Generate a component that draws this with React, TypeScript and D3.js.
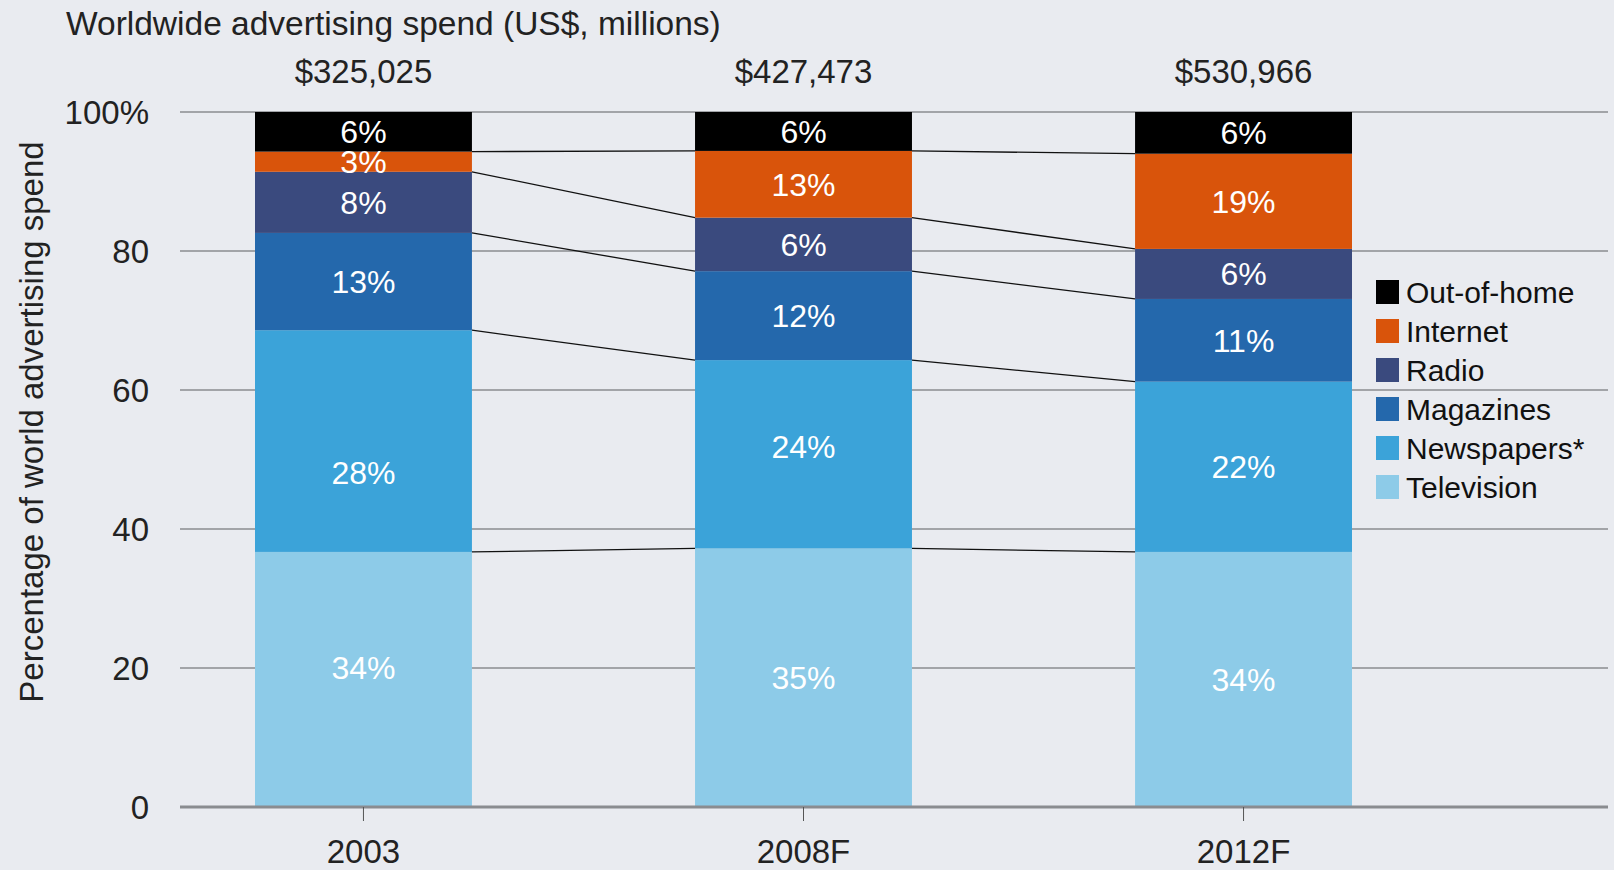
import React from "react"
import * as d3 from "d3"

const years = ["2003", "2008F", "2012F"]
const totals = ["$325,025", "$427,473", "$530,966"]
// stacking order bottom -> top
const media = ["Television", "Newspapers*", "Magazines", "Radio", "Internet", "Out-of-home"]
const colors = ["#8dcbe8", "#3ba3d9", "#2468ac", "#3a4a7e", "#d9540b", "#000000"]

// segment heights (share of 100)
const television = [36.7, 37.2, 36.7]
const newspapers = [31.9, 27.1, 24.5]
const magazines = [14.0, 12.8, 11.9]
const radio = [8.8, 7.7, 7.2]
const internet = [2.9, 9.6, 13.7]
const outOfHome = [5.7, 5.6, 6.0]

// printed labels
const televisionLbl = ["34%", "35%", "34%"]
const newspapersLbl = ["28%", "24%", "22%"]
const magazinesLbl = ["13%", "12%", "11%"]
const radioLbl = ["8%", "6%", "6%"]
const internetLbl = ["3%", "13%", "19%"]
const outOfHomeLbl = ["6%", "6%", "6%"]

const yTicks = [0, 20, 40, 60, 80, 100]

const W = 1614
const H = 870
const font = "'Liberation Sans', Arial, sans-serif"

export default function App() {
  const series = [television, newspapers, magazines, radio, internet, outOfHome]
  const labels = [televisionLbl, newspapersLbl, magazinesLbl, radioLbl, internetLbl, outOfHomeLbl]
  // labels in the original aren't all centred in their block
  const nudge: Record<string, number> = { "0-0": -12, "1-0": 31, "1-1": -8 }

  const rows = years.map((yr, i) => {
    const r: any = { year: yr }
    media.forEach((m, k) => (r[m] = series[k][i]))
    return r
  })
  const stacked = d3.stack().keys(media)(rows)

  const y = d3.scaleLinear().domain([0, 100]).range([807, 112])
  const x = d3.scaleBand().domain(years).range([255, 1352]).paddingInner(0.507).paddingOuter(0)
  const bw = x.bandwidth()

  const connectors: any[] = []
  stacked.slice(0, -1).forEach((layer, k) => {
    for (let i = 0; i < years.length - 1; i++) {
      connectors.push({
        x1: x(years[i])! + bw,
        y1: y(layer[i][1]),
        x2: x(years[i + 1])!,
        y2: y(layer[i + 1][1]),
        key: `${k}-${i}`,
      })
    }
  })

  return (
    <svg width={W} height={H} style={{ position: "absolute", left: 0, top: 0 }} fontFamily={font}>
      <rect width={W} height={H} fill="#e9ebf0" />
      <text x={66} y={35} fontSize={33.5} fill="#222">Worldwide advertising spend (US$, millions)</text>

      {yTicks.slice(1).map(t => (
        <line key={t} x1={180} x2={1608} y1={y(t)} y2={y(t)} stroke="#8a8c90" strokeWidth={1.3} />
      ))}

      {stacked.map((layer, k) => (
        <g key={layer.key}>
          {layer.map((d, i) => (
            <rect key={i} x={x(years[i])} y={y(d[1])} width={bw} height={y(d[0]) - y(d[1])} fill={colors[k]} />
          ))}
        </g>
      ))}

      {connectors.map(c => (
        <line key={c.key} x1={c.x1} y1={c.y1} x2={c.x2} y2={c.y2} stroke="#111" strokeWidth={1.3} />
      ))}

      {stacked.map((layer, k) => (
        <g key={"l" + layer.key}>
          {layer.map((d, i) => (
            <text key={i} x={x(years[i])! + bw / 2} y={y((d[0] + d[1]) / 2) + (nudge[`${k}-${i}`] || 0)} dy="0.36em"
              textAnchor="middle" fontSize={32} fill="#fff">{labels[k][i]}</text>
          ))}
        </g>
      ))}

      <line x1={180} x2={1608} y1={y(0)} y2={y(0)} stroke="#8a8c90" strokeWidth={3} />
      {years.map((yr, i) => (
        <g key={yr}>
          <line x1={x(yr)! + bw / 2} x2={x(yr)! + bw / 2} y1={y(0)} y2={y(0) + 14} stroke="#555" strokeWidth={1} />
          <text x={x(yr)! + bw / 2} y={863} textAnchor="middle" fontSize={33} fill="#222">{yr}</text>
          <text x={x(yr)! + bw / 2} y={83} textAnchor="middle" fontSize={33} fill="#222">{totals[i]}</text>
        </g>
      ))}

      {yTicks.map(t => (
        <text key={t} x={149} y={y(t)} dy="0.36em" textAnchor="end" fontSize={33} fill="#222">
          {t === 100 ? "100%" : t}
        </text>
      ))}

      <text transform={`translate(43,422) rotate(-90)`} textAnchor="middle" fontSize={33} fill="#222">
        Percentage of world advertising spend
      </text>

      {media.slice().reverse().map((m, j) => {
        const k = media.length - 1 - j
        const cy = 292 + j * 39
        return (
          <g key={m}>
            <rect x={1376} y={cy - 12} width={23} height={24} fill={colors[k]} />
            <text x={1406} y={cy} dy="0.36em" fontSize={30} fill="#111">{m}</text>
          </g>
        )
      })}
    </svg>
  )
}
